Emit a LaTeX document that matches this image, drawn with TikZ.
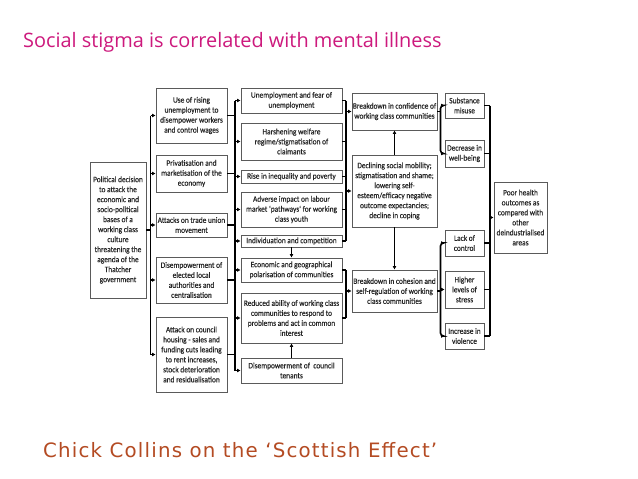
\documentclass[tikz,border=0pt]{standalone}
\usepackage{fontspec}
\setmainfont{Carlito}
\newfontfamily\titlefont{Open Sans}
\newfontfamily\capfont[LetterSpace=6]{DejaVu Sans}
\newfontfamily\boxfont[FakeStretch=0.9,FakeBold=0.3]{Carlito}
\usetikzlibrary{arrows.meta}
\definecolor{titlemag}{RGB}{205,25,125}
\definecolor{capbrown}{RGB}{180,75,35}
\definecolor{boxgray}{RGB}{90,90,90}
\tikzset{
 box/.style={draw=boxgray, line width=0.9pt, fill=white, align=center, inner sep=0pt,
   font=\boxfont\fontsize{8.2}{10}\selectfont, text=black!85},
 conn/.style={line width=1.6pt, black},
 arr/.style={line width=1.3pt, -{Latex[length=3.5pt,width=4pt]}},
 brk/.style={conn, rounded corners=3pt},
}
\newcommand\bx[6]{%
 \pgfmathsetmacro\bw{#4-#2}\pgfmathsetmacro\bh{#5-#3}%
 \node[box, minimum width=\bw pt, minimum height=\bh pt] (#1) at ({(#2+#4)/2},{(#3+#5)/2}) {#6};}
\begin{document}
\begin{tikzpicture}[x=1pt,y=-1pt]
\useasboundingbox[fill=white] (0,0) rectangle (638,479);
\node[anchor=base west, inner sep=0, text=titlemag, font=\titlefont\fontsize{19.9}{22}\selectfont] (title) at (23,47) {Social stigma is correlated with mental illness};
\node[anchor=base west, inner sep=0, text=capbrown, font=\capfont\fontsize{19.8}{22}\selectfont] (cap) at (43,457) {Chick Collins on the ‘Scottish Effect’};

\bx{L}{90}{162}{146}{298}{Political decision\\to attack the\\economic and\\socio-political\\bases of a\\working class\\culture\\threatening the\\agenda of the\\Thatcher\\government}
\bx{A1}{156}{88}{227}{143}{Use of rising\\unemployment to\\disempower workers\\and control wages}
\bx{A2}{156}{155}{227}{192}{Privatisation and\\marketisation of the\\economy}
\bx{A3}{156}{213}{227}{237}{Attacks on trade union\\movement}
\bx{A4}{156}{257}{227}{303}{Disempowerment of\\elected local\\authorities and\\centralisation}
\bx{A5}{156}{317}{227}{392}{Attack on council\\housing - sales and\\funding cuts leading\\to rent increases,\\stock deterioration\\and residualisation}
\bx{B1}{241}{88}{342}{113}{Unemployment and fear of\\unemployment}
\bx{B2}{241}{123}{342}{160}{Harshening welfare\\regime/stigmatisation of\\claimants}
\bx{B3}{241}{170}{342}{183}{Rise in inequality and poverty}
\bx{B4}{241}{192}{342}{227}{Adverse impact on labour\\market ‘pathways’ for working\\class youth}
\bx{B5}{241}{235}{342}{247}{Individuation and competition}
\bx{B6}{241}{258}{342}{282}{Economic and geographical\\polarisation of communities}
\bx{B7}{241}{293}{342}{343}{Reduced ability of working class\\communities to respond to\\problems and act in common\\interest}
\bx{B8}{241}{358}{342}{383}{Disempowerment of\ \ council\\tenants}
\bx{C1}{352}{93}{437}{130}{Breakdown in confidence of\\working class communities}
\bx{C2}{352}{155}{437}{227}{Declining social mobility;\\stigmatisation and shame;\\lowering self-\\esteem/efficacy negative\\outcome expectancies;\\decline in coping}
\bx{C3}{352}{270}{437}{312}{Breakdown in cohesion and\\self-regulation of working\\class communities}
\bx{D1}{445}{93}{484}{118}{Substance\\misuse}
\bx{D2}{445}{140}{484}{167}{Decrease in\\well-being}
\bx{D3}{445}{230}{484}{256}{Lack of\\control}
\bx{D4}{445}{271}{484}{308}{Higher\\levels of\\stress}
\bx{D5}{445}{323}{484}{349}{Increase in\\violence}
\bx{E}{494}{182}{547}{253}{Poor health\\outcomes as\\compared with\\other\\deindustrialised\\areas}

% trunk 1
\coordinate (t1) at (150.5,0);
\draw[conn] (L.east) -- (L.east -| t1);
\draw[conn] (t1 |- A1.west) -- (t1 |- A5.west);
\foreach \n in {A1,A2,A3,A4,A5} \draw[arr] (t1 |- \n.west) -- (\n.west);
% trunk 2
\coordinate (t2) at (235,0);
\foreach \n in {A1,A2,A3,A4,A5} \draw[conn] (\n.east) -- (\n.east -| t2);
\draw[conn] (t2 |- B1.west) -- (t2 |- B8.west);
\foreach \n in {B1,B2,B3,B4,B5,B6,B7,B8} \draw[arr] (t2 |- \n.west) -- (\n.west);
\draw[arr] (B5.south) -- (B6.north);
\draw[arr] (B8.north) -- (B7.south);
% bracket 3
\coordinate (t3) at (346,0);
\foreach \n in {B1,B2,B3,B4,B5} \draw[conn] (\n.east) -- (\n.east -| t3);
\draw[conn] (t3 |- B1.east) -- (t3 |- B5.east);
\draw[arr] (t3 |- C1.west) -- (C1.west);
\draw[arr] (t3 |- C2.west) -- (C2.west);
% bracket 4
\foreach \n in {B6,B7} \draw[conn] (\n.east) -- (\n.east -| t3);
\draw[conn] (t3 |- B6.east) -- (t3 |- B7.east);
\draw[arr] (t3 |- C3.west) -- (C3.west);
\draw[arr] (C2.north) -- (C1.south);
\draw[arr] (C2.south) -- (C3.north);
% bracket 5
\coordinate (t5) at (440.5,0);
\draw[conn] (C1.east) -- (C1.east -| t5);
\draw[brk] ([xshift=1.5pt]t5 |- D1.west) -- (t5 |- D1.west) -- (t5 |- D2.west) -- ([xshift=1.5pt]t5 |- D2.west);
\draw[arr] (t5 |- D1.west) -- (D1.west);
\draw[arr] (t5 |- D2.west) -- (D2.west);
% bracket 6
\draw[conn] (C3.east) -- (C3.east -| t5);
\draw[brk] ([xshift=1.5pt]t5 |- D3.west) -- (t5 |- D3.west) -- (t5 |- D5.west) -- ([xshift=1.5pt]t5 |- D5.west);
\foreach \n in {D3,D4,D5} \draw[arr] (t5 |- \n.west) -- (\n.west);
% bracket 7
\coordinate (t7) at (490,0);
\foreach \n in {D1,D2,D3,D4,D5} \draw[conn] (\n.east) -- (\n.east -| t7);
\draw[conn] (t7 |- D1.east) -- (t7 |- D5.east);
\draw[arr] (t7 |- E.west) -- (E.west);
\end{tikzpicture}
\end{document}
